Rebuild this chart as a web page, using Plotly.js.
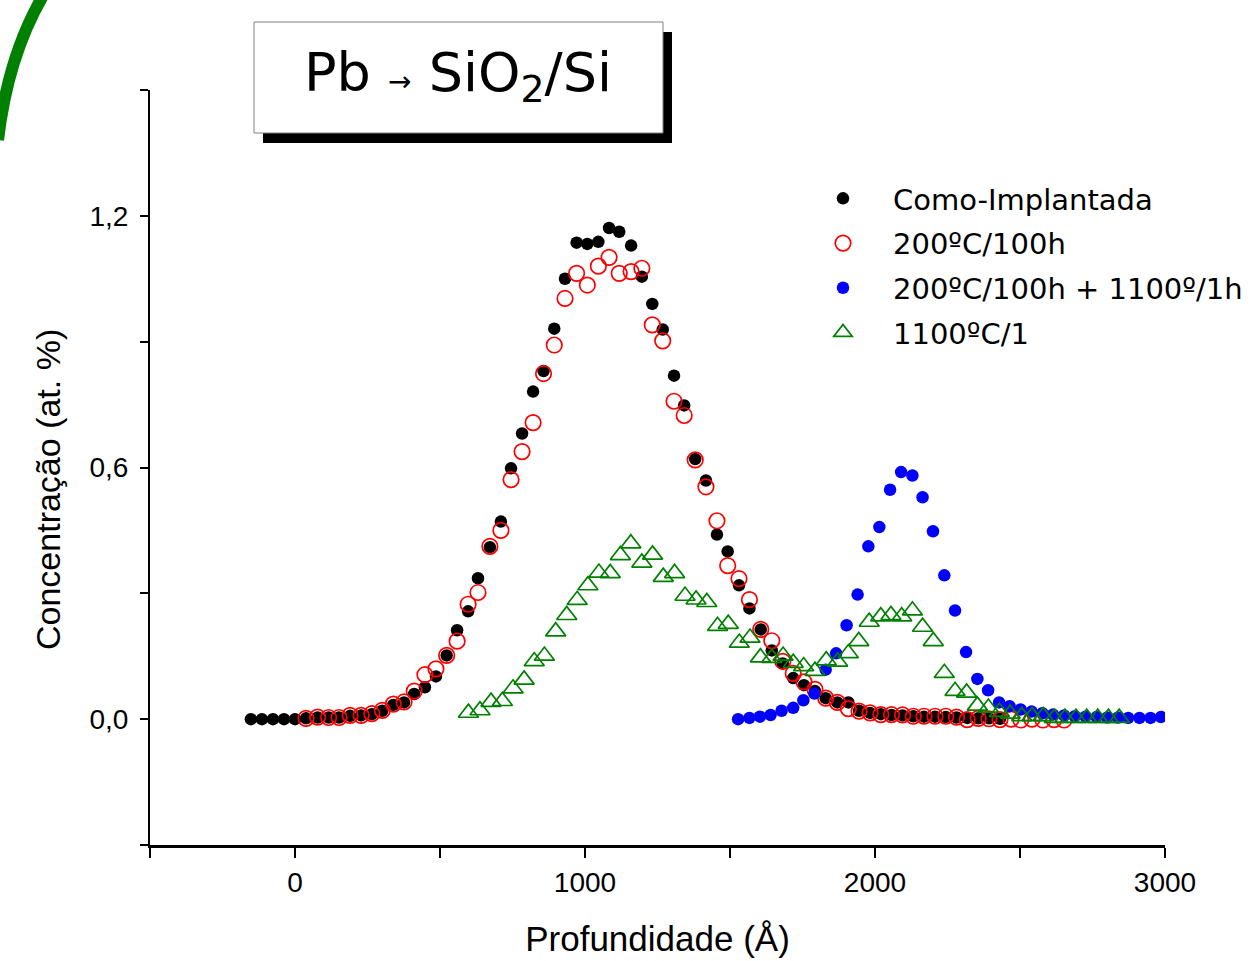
<!DOCTYPE html>
<html>
<head>
<meta charset="utf-8">
<script src="https://cdn.plot.ly/plotly-3.0.1.min.js"></script>
<style>html,body{margin:0;padding:0;background:#fff;}#chart{width:1253px;height:961px;}</style>
</head>
<body>
<div id="chart"></div>
<script>
// ---- data ----
const seriesNames = ["Como-Implantada", "200ºC/100h", "200ºC/100h + 1100º/1h", "1100ºC/1"];
const xTitle = "Profundidade (Å)";
const yTitle = "Concentração (at. %)";

const blackX = [-152,-114,-76,-38,0,38,78,116,152,190,228,265,301,339,376,411,448,486,523,559,597,631,672,710,745,783,821,857,894,931,971,1008,1046,1083,1118,1159,1196,1232,1268,1307,1342,1380,1417,1455,1492,1531,1567,1606,1644,1682,1718,1755,1793,1830,1870,1908,1945,1983,2020,2057,2095,2132,2169,2207,2244,2281,2318,2356,2393,2431];
const blackY = [0,0,0,0,0,0.002,0.004,0.004,0.004,0.008,0.009,0.012,0.020,0.034,0.040,0.060,0.076,0.102,0.152,0.212,0.257,0.336,0.410,0.471,0.598,0.681,0.781,0.830,0.931,1.050,1.136,1.133,1.138,1.171,1.162,1.129,1.055,0.990,0.929,0.819,0.748,0.620,0.569,0.440,0.400,0.319,0.264,0.214,0.164,0.133,0.098,0.081,0.067,0.050,0.040,0.040,0.020,0.015,0.012,0.010,0.009,0.007,0.006,0.006,0.005,0.004,0.003,0.002,0.002,0.001];

const redX = [38,78,116,152,190,228,265,301,339,376,411,448,486,523,559,597,631,672,710,745,783,821,857,894,931,971,1008,1046,1083,1118,1159,1196,1232,1268,1307,1342,1380,1417,1455,1492,1531,1567,1606,1644,1682,1718,1755,1793,1830,1870,1908,1945,1983,2020,2057,2095,2132,2169,2207,2244,2281,2318,2356,2393,2431,2469,2503,2541,2579,2617,2652];
const redY = [0.002,0.005,0.004,0.004,0.009,0.009,0.013,0.021,0.036,0.041,0.067,0.106,0.120,0.152,0.186,0.274,0.302,0.412,0.450,0.571,0.638,0.707,0.824,0.892,1.003,1.063,1.035,1.080,1.101,1.063,1.067,1.075,0.940,0.902,0.758,0.724,0.618,0.554,0.473,0.366,0.335,0.285,0.214,0.187,0.138,0.109,0.089,0.071,0.050,0.040,0.025,0.019,0.015,0.011,0.011,0.010,0.007,0.007,0.007,0.007,0.005,-0.001,0.002,0.001,-0.001,0.000,-0.002,0.000,-0.002,-0.001,-0.002];

const blueX = [1528,1567,1603,1640,1678,1718,1753,1791,1830,1866,1902,1940,1977,2015,2052,2090,2129,2164,2200,2239,2276,2314,2353,2390,2428,2464,2502,2540,2577,2614,2652,2689,2726,2764,2801,2838,2873,2912,2950,2986];
const blueY = [0.000,0.003,0.006,0.010,0.020,0.027,0.045,0.061,0.118,0.157,0.224,0.297,0.412,0.458,0.547,0.589,0.581,0.529,0.448,0.343,0.259,0.160,0.096,0.069,0.040,0.031,0.023,0.018,0.014,0.011,0.009,0.007,0.006,0.005,0.004,0.004,0.003,0.003,0.003,0.005];

const greenX = [598,638,676,715,752,790,825,860,899,937,973,1010,1048,1087,1122,1158,1196,1233,1270,1309,1345,1383,1420,1457,1494,1532,1569,1605,1644,1683,1718,1754,1793,1832,1871,1908,1944,1980,2020,2055,2092,2129,2164,2201,2239,2276,2316,2353,2391,2429,2466,2506,2542,2580,2618,2655,2693,2730,2768,2805,2842];
const greenY = [0.015,0.021,0.041,0.043,0.073,0.094,0.138,0.151,0.209,0.248,0.284,0.319,0.349,0.348,0.391,0.419,0.373,0.392,0.339,0.348,0.294,0.285,0.279,0.222,0.227,0.182,0.194,0.147,0.146,0.151,0.134,0.126,0.115,0.140,0.137,0.157,0.186,0.232,0.245,0.248,0.245,0.259,0.220,0.186,0.110,0.067,0.063,0.032,0.027,0.017,0.013,0.007,0.007,0.007,0.003,0.003,0.003,0.003,0.003,0.003,0.003];

const xTickVals = [0,1000,2000,3000];
const xTickText = ["0","1000","2000","3000"];
const xMinorVals = [-500,500,1500,2500];
const yTickVals = [0,0.6,1.2];
const yTickText = ["0,0","0,6","1,2"];
const yMinorVals = [-0.3,0.3,0.9,1.5];

// ---- traces ----
const traces = [
  {x: blackX, y: blackY, name: seriesNames[0], legendgroup: "a", type: "scatter", mode: "markers",
   marker: {symbol: "circle", size: 12.5, color: "#000000"}},
  {x: redX, y: redY, name: seriesNames[1], legendgroup: "b", type: "scatter", mode: "markers",
   marker: {symbol: "circle-open", size: 15.5, color: "#ff0000", line: {width: 1.7, color: "#ff0000"}}},
  {x: blueX, y: blueY, name: seriesNames[2], legendgroup: "c", type: "scatter", mode: "markers",
   marker: {symbol: "circle", size: 12.5, color: "#0000ff"}},
  {x: greenX, y: greenY, name: seriesNames[3], legendgroup: "d", type: "scatter", mode: "markers",
   marker: {symbol: "triangle-up-open", size: 17.5, color: "#008000", line: {width: 1.7, color: "#008000"}}}
];

// pixel -> paper helpers for decorations (plot area 150..1165 x 90..845)
const px = v => (v - 150) / 1015;
const py = v => (845 - v) / 755;

const layout = {
  width: 1253, height: 961,
  margin: {l: 150, r: 88, t: 90, b: 116, pad: 0, autoexpand: false},
  paper_bgcolor: "#ffffff", plot_bgcolor: "#ffffff",
  font: {family: "Liberation Sans, Arial, sans-serif", color: "#000"},
  showlegend: true,
  legend: {x: px(793), y: py(173), xanchor: "left", yanchor: "top",
           font: {family: "DejaVu Sans, Verdana, sans-serif", size: 29, color: "#000"},
           itemwidth: 90, bgcolor: "rgba(0,0,0,0)", borderwidth: 0,
           traceorder: "grouped", tracegroupgap: 4},
  xaxis: {range: [-500, 3000], showgrid: false, zeroline: false, showline: true,
          linecolor: "#000", linewidth: 3, ticks: "outside", ticklen: 10, tickwidth: 2, tickcolor: "#000",
          tickvals: xTickVals, ticktext: xTickText,
          minor: {tickvals: xMinorVals, ticks: "outside", ticklen: 10, tickwidth: 2, tickcolor: "#000", showgrid: false},
          tickfont: {family: "Liberation Sans, Arial, sans-serif", size: 28, color: "#000"},
          title: {text: xTitle, font: {family: "Liberation Sans, Arial, sans-serif", size: 35, color: "#000"}, standoff: 30},
          automargin: false, fixedrange: true},
  yaxis: {range: [-0.3, 1.5], showgrid: false, zeroline: false, showline: true,
          linecolor: "#000", linewidth: 2, ticks: "outside", ticklen: 8, tickwidth: 2, tickcolor: "#000",
          tickvals: yTickVals, ticktext: yTickText, ticklabelstandoff: 6,
          minor: {tickvals: yMinorVals, ticks: "outside", ticklen: 8, tickwidth: 2, tickcolor: "#000", showgrid: false},
          tickfont: {family: "Liberation Sans, Arial, sans-serif", size: 28, color: "#000"},
          automargin: false, fixedrange: true},
  shapes: [
    {type: "path", xref: "paper", yref: "paper", layer: "above",
     path: `M ${px(44)} ${py(-6)} Q ${px(8)} ${py(55)} ${px(-2)} ${py(140)}`,
     line: {color: "#008000", width: 12}},
    {type: "rect", xref: "paper", yref: "paper", x0: px(263), x1: px(672), y0: py(143), y1: py(32),
     fillcolor: "#000000", line: {width: 0}},
    {type: "rect", xref: "paper", yref: "paper", x0: px(254), x1: px(663), y0: py(133), y1: py(22),
     fillcolor: "#ffffff", line: {color: "#808080", width: 1}}
  ],
  annotations: [
    {xref: "paper", yref: "paper", x: px(458), y: py(76), xanchor: "center", yanchor: "middle",
     showarrow: false,
     text: 'Pb <span style="font-size:28px">→</span> SiO<sub>2</sub>/Si',
     font: {family: "DejaVu Sans, Verdana, sans-serif", size: 54, color: "#000"}},
    {xref: "paper", yref: "paper", x: px(48), y: py(490), xanchor: "center", yanchor: "middle",
     showarrow: false, textangle: -90, text: yTitle,
     font: {family: "Liberation Sans, Arial, sans-serif", size: 34, color: "#000"}}
  ]
};

Plotly.newPlot("chart", traces, layout, {displayModeBar: false, staticPlot: true});
</script>
</body>
</html>
